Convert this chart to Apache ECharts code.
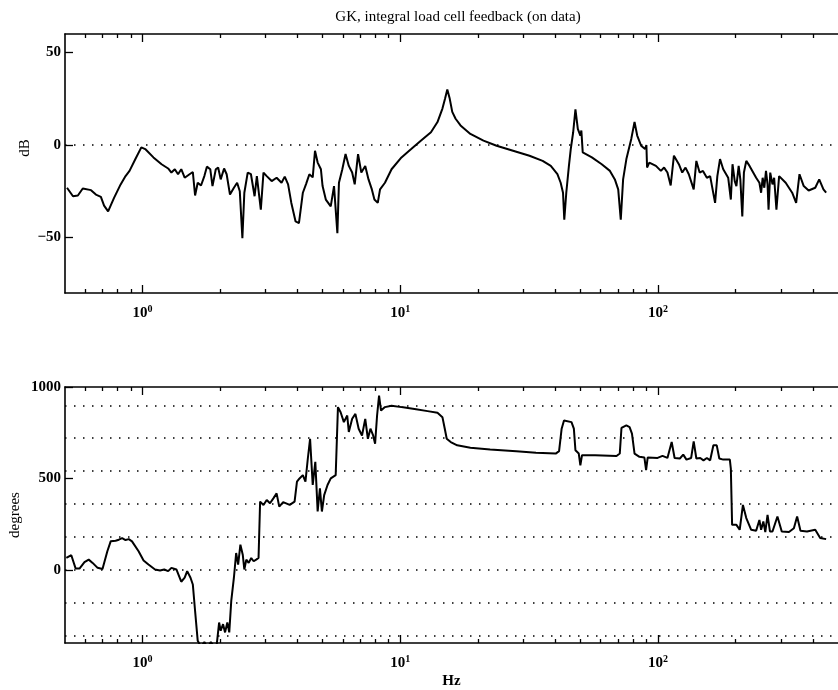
<!DOCTYPE html>
<html><head><meta charset="utf-8">
<script src="https://cdn.jsdelivr.net/npm/echarts@6/dist/echarts.min.js"></script>
<style>html,body{margin:0;padding:0;background:#fff}#c{width:838px;height:690px}</style>
</head><body><div id="c"></div>
<script>
const titleText = 'GK, integral load cell feedback (on data)';
const magFreq = [0.509,0.537,0.561,0.586,0.631,0.659,0.689,0.709,0.735,0.775,0.822,0.859,0.890,0.938,0.989,1.024,1.102,1.185,1.257,1.294,1.334,1.373,1.413,1.457,1.522,1.567,1.599,1.637,1.686,1.737,1.777,1.831,1.868,1.924,1.965,2.010,2.072,2.120,2.184,2.262,2.328,2.384,2.440,2.483,2.559,2.634,2.721,2.777,2.877,2.946,3.033,3.170,3.313,3.462,3.563,3.671,3.779,3.925,4.045,4.189,4.313,4.440,4.575,4.669,4.781,4.922,4.996,5.143,5.374,5.534,5.702,5.783,5.960,6.135,6.316,6.508,6.658,6.860,7.063,7.315,7.532,7.761,7.940,8.181,8.349,8.724,9.254,10.11,11.03,12.05,13.16,13.95,14.58,14.93,15.23,15.56,15.92,16.40,17.14,18.72,21.04,23.66,27.41,31.74,35.70,38.40,40.74,41.94,42.83,43.32,44.10,45.15,45.90,46.90,47.86,48.89,50.01,50.46,51.08,55.43,60.54,65.14,68.07,70.14,71.76,73.28,75.45,78.82,81.16,83.12,86.10,89.19,90.23,90.78,92.62,98.26,102.7,105.7,108.9,112.1,115.4,120.6,124.3,128.0,131.8,137.7,141.0,145.2,149.6,154.9,159.5,166.7,170.1,174.2,179.3,187.4,191.9,194.8,198.7,201.7,205.8,208.9,212.6,215.7,220.3,226.8,240.6,247.7,251.5,255.0,258.8,262.7,266.4,268.8,272.9,278.4,282.6,288.4,295.4,313.3,332.0,344.0,354.4,368.1,384.6,408.0,422.7,439.0,449.7];
const magDb = [-23.1,-27.7,-27.3,-23.5,-24.4,-26.8,-28.0,-32.8,-35.9,-28.6,-21.3,-16.8,-14.0,-7.6,-1.3,-2.2,-6.7,-10.4,-12.7,-14.9,-13.1,-15.8,-13.1,-17.7,-15.8,-14.6,-27.3,-20.4,-21.9,-16.8,-11.7,-13.1,-22.2,-13.1,-12.2,-18.6,-12.7,-15.8,-26.8,-23.1,-20.4,-25.0,-50.4,-25.8,-14.9,-15.8,-27.7,-16.8,-35.0,-14.9,-16.8,-19.5,-17.7,-20.4,-17.1,-21.3,-31.3,-41.3,-42.2,-25.8,-21.0,-15.8,-17.5,-3.1,-9.5,-13.1,-22.2,-29.5,-33.2,-22.2,-47.7,-20.4,-13.1,-4.9,-11.3,-14.9,-21.3,-4.9,-14.9,-11.3,-18.6,-24.0,-29.5,-31.3,-24.0,-20.4,-13.1,-6.7,-2.2,2.4,6.9,12.4,19.7,25.1,30.0,25.1,17.9,14.2,10.6,6.0,2.4,-0.4,-3.1,-5.8,-8.6,-11.3,-15.8,-20.4,-25.8,-40.4,-25.8,-11.3,-2.2,6.9,19.3,8.7,5.1,7.8,-4.0,-6.7,-10.4,-14.0,-18.6,-24.0,-40.4,-18.6,-7.6,3.3,12.4,5.1,-0.4,-2.2,0.0,-12.2,-9.5,-11.3,-14.0,-12.2,-14.9,-21.9,-5.8,-10.4,-14.9,-12.2,-15.8,-24.0,-8.6,-14.9,-14.0,-17.7,-16.8,-31.3,-16.8,-7.6,-13.1,-17.7,-29.5,-10.4,-19.5,-22.2,-11.3,-18.6,-38.6,-14.9,-8.6,-11.3,-17.7,-20.4,-25.8,-17.7,-23.1,-14.0,-21.3,-35.0,-14.9,-21.3,-17.7,-35.0,-16.8,-20.4,-25.8,-31.3,-15.8,-22.2,-24.6,-23.1,-18.6,-24.0,-25.8];
const phaseFreq = [0.506,0.529,0.550,0.569,0.595,0.618,0.640,0.669,0.699,0.730,0.752,0.786,0.809,0.833,0.859,0.884,0.910,0.965,1.009,1.054,1.118,1.169,1.214,1.257,1.294,1.353,1.413,1.457,1.490,1.535,1.567,1.599,1.637,1.686,1.737,1.788,1.841,1.897,1.941,1.982,2.010,2.053,2.090,2.133,2.170,2.209,2.262,2.308,2.349,2.397,2.448,2.483,2.527,2.581,2.641,2.698,2.760,2.819,2.859,2.946,3.033,3.123,3.218,3.313,3.392,3.513,3.724,3.890,3.974,4.066,4.189,4.287,4.379,4.468,4.575,4.682,4.781,4.879,4.966,5.068,5.222,5.374,5.617,5.732,5.870,6.043,6.227,6.316,6.508,6.699,6.897,7.106,7.315,7.489,7.663,7.849,7.989,8.131,8.276,8.423,8.724,9.254,10.11,11.36,12.77,13.95,14.58,14.89,15.15,15.70,16.64,18.72,22.33,28.22,33.65,40.13,41.35,42.31,43.21,43.82,46.20,47.19,47.86,49.31,50.01,50.76,57.07,69.09,71.12,72.21,75.45,77.65,79.31,81.16,84.82,88.64,89.99,91.27,99.74,104.2,108.9,113.1,116.1,121.7,125.4,129.1,134.6,137.7,141.0,146.0,150.3,154.9,159.5,164.2,169.2,173.1,179.3,190.2,191.9,194.1,197.0,201.7,207.7,213.8,220.3,230.2,240.6,247.7,251.5,256.6,261.1,266.4,272.2,278.4,291.0,302.5,322.6,337.1,347.0,357.6,379.0,408.0,426.4,449.7];
const phaseDeg = [65,80,7,7,42,56,38,11,5,102,156,159,165,174,163,168,156,102,51,29,2,-4,2,-7,11,2,-65,-43,-7,-43,-80,-225,-388,-420,-395,-425,-395,-420,-406,-288,-333,-297,-342,-288,-342,-170,-43,92,29,138,83,2,56,38,65,47,56,65,373,355,382,364,391,418,346,370,355,373,482,500,518,482,609,717,464,591,319,446,319,409,464,500,518,890,862,808,844,754,826,853,772,735,826,717,772,735,690,844,953,871,890,898,890,880,868,859,835,772,717,699,681,668,658,649,641,636,649,772,817,817,808,772,654,636,572,627,627,623,636,776,790,781,745,636,618,614,545,614,612,623,612,699,612,609,630,603,612,703,609,612,599,612,599,681,681,609,603,603,554,246,237,246,219,355,283,219,214,273,219,265,207,301,210,210,292,210,207,228,292,214,210,219,174,168];
const xMajorTicks = [1, 10, 100];
const xMinorTicks = [0.6,0.7,0.8,0.9,2,3,4,5,6,7,8,9,20,30,40,50,60,70,80,90,200,300,400];
const magTicks = [-50, 0, 50];
const phaseTicks = [0, 500, 1000];
const magGridLines = [0];
const phaseGridLines = [-360, -180, 0, 180, 360, 540, 720, 900];

const FONT = 'Liberation Serif';
const chart = echarts.init(document.getElementById('c'), null, {renderer: 'canvas'});

function xAxisDef(gridIndex, position, ticks, len, withLabel, withLine) {
  return {
    type: 'log', logBase: 10, gridIndex: gridIndex, position: position,
    min: 0.5, max: 500,
    axisLine: {show: withLine, onZero: false, lineStyle: {color: '#000', width: 1.6}},
    axisTick: {show: true, inside: true, length: len, customValues: ticks, lineStyle: {color: '#000', width: 1.3}},
    axisLabel: withLabel ? {
      show: true, customValues: ticks, margin: 11,
      formatter: function (v) { return '{b|10}{s|' + Math.round(Math.log10(v)) + '}'; },
      rich: {
        b: {fontFamily: FONT, fontSize: 15, fontWeight: 'bold', color: '#000', verticalAlign: 'bottom'},
        s: {fontFamily: FONT, fontSize: 10, fontWeight: 'bold', color: '#000', verticalAlign: 'bottom', padding: [0, 0, 7, 0]}
      }
    } : {show: false},
    splitLine: {show: false}, minorTick: {show: false}
  };
}
function yAxisDef(gridIndex, min, max, ticks) {
  return {
    type: 'value', gridIndex: gridIndex, min: min, max: max,
    axisLine: {show: true, lineStyle: {color: '#000', width: 1.6}},
    axisTick: {show: true, inside: true, length: 8, customValues: ticks, lineStyle: {color: '#000', width: 1.3}},
    axisLabel: {show: true, customValues: ticks, margin: 4, fontFamily: FONT, fontSize: 15, fontWeight: 'bold', color: '#000',
      formatter: function (v) { return String(v).replace('-', '\u2212'); }},
    splitLine: {show: false}
  };
}
const dotStyle = {color: '#000', width: 1.6, type: [1.5, 7.5]};
function gridMark(values) {
  return {
    silent: true, symbol: 'none', animation: false,
    label: {show: false}, lineStyle: dotStyle,
    data: values.map(v => ({yAxis: v}))
  };
}

const option = {
  backgroundColor: '#fff',
  animation: false,
  title: {
    text: titleText, left: 453, top: 5, textAlign: 'center',
    textStyle: {fontFamily: FONT, fontSize: 15, fontWeight: 'normal', color: '#000'}
  },
  grid: [
    {left: 65, top: 34, width: 785, height: 259, show: false},
    {left: 65, top: 387, width: 785, height: 259, show: false}
  ],
  xAxis: [
    xAxisDef(0, 'bottom', xMajorTicks, 8, true, true),
    xAxisDef(0, 'bottom', xMinorTicks, 4, false, false),
    xAxisDef(0, 'top', xMajorTicks, 8, false, true),
    xAxisDef(0, 'top', xMinorTicks, 4, false, false),
    Object.assign(xAxisDef(1, 'bottom', xMajorTicks, 8, true, true), {
      name: 'Hz', nameLocation: 'middle', nameGap: 31,
      nameTextStyle: {fontFamily: FONT, fontSize: 15, fontWeight: 'bold', color: '#000'}
    }),
    xAxisDef(1, 'bottom', xMinorTicks, 4, false, false),
    xAxisDef(1, 'top', xMajorTicks, 8, false, true),
    xAxisDef(1, 'top', xMinorTicks, 4, false, false)
  ],
  yAxis: [
    yAxisDef(0, -80, 60, magTicks),
    yAxisDef(1, -400, 1000, phaseTicks)
  ],
  graphic: [
    {type: 'text', x: 25, y: 148, rotation: Math.PI / 2,
     style: {text: 'dB', fontFamily: FONT, fontSize: 15, fill: '#000', align: 'center', verticalAlign: 'middle'}},
    {type: 'text', x: 15, y: 515, rotation: Math.PI / 2,
     style: {text: 'degrees', fontFamily: FONT, fontSize: 15, fill: '#000', align: 'center', verticalAlign: 'middle'}}
  ],
  series: [
    {
      type: 'line', xAxisIndex: 0, yAxisIndex: 0, showSymbol: false, clip: true,
      lineStyle: {color: '#000', width: 2}, z: 3,
      data: magFreq.map((f, i) => [f, magDb[i]]),
      markLine: gridMark(magGridLines)
    },
    {
      type: 'line', xAxisIndex: 4, yAxisIndex: 1, showSymbol: false, clip: true,
      lineStyle: {color: '#000', width: 2}, z: 3,
      data: phaseFreq.map((f, i) => [f, phaseDeg[i]]),
      markLine: gridMark(phaseGridLines)
    }
  ]
};
chart.setOption(option);
</script>
</body></html>
